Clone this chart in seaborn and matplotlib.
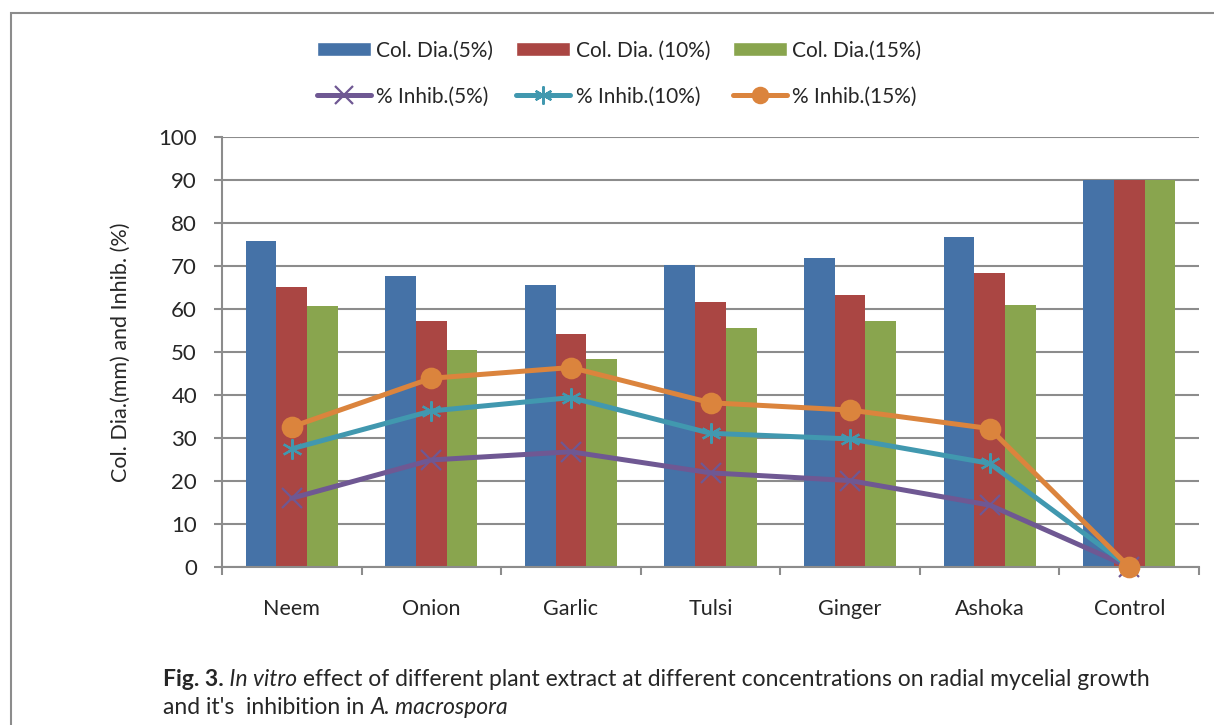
import numpy as np
import pandas as pd
import matplotlib.pyplot as plt
import seaborn as sns
from matplotlib.lines import Line2D
from matplotlib.patches import Patch, Rectangle

# Valores
plantas = ['Neem', 'Onion', 'Garlic', 'Tulsi', 'Ginger', 'Ashoka', 'Control']
col_dia_5 = [75.8, 67.7, 65.7, 70.2, 71.9, 76.7, 90.0]
col_dia_10 = [65.2, 57.3, 54.3, 61.6, 63.2, 68.4, 90.0]
col_dia_15 = [60.7, 50.5, 48.3, 55.6, 57.1, 60.9, 90.0]
inhib_5 = [16.0, 24.9, 26.8, 21.9, 20.1, 14.4, 0.0]
inhib_10 = [27.5, 36.3, 39.4, 31.1, 29.8, 24.1, 0.0]
inhib_15 = [32.6, 43.9, 46.4, 38.2, 36.5, 32.2, 0.0]

series_barras = ['Col. Dia.(5%)', 'Col. Dia. (10%)', 'Col. Dia.(15%)']
series_lineas = ['% Inhib.(5%)', '% Inhib.(10%)', '% Inhib.(15%)']
colores_barras = ['#4572A7', '#AA4643', '#89A54E']
colores_lineas = ['#6F5893', '#4198AF', '#DB843D']
marcadores = ['x', (6, 2, 0), 'o']

df = pd.DataFrame({'Planta': plantas,
                   series_barras[0]: col_dia_5,
                   series_barras[1]: col_dia_10,
                   series_barras[2]: col_dia_15})
df_largo = df.melt(id_vars='Planta', var_name='Serie', value_name='Valor')

sns.set_style('white')
plt.rcParams['font.family'] = ['Lato', 'DejaVu Sans']

fig = plt.figure(figsize=(12.14, 7.25), dpi=100)
ax = fig.add_axes([0.1829, 0.2179, 0.8048, 0.5931])

sns.barplot(data=df_largo, x='Planta', y='Valor', hue='Serie', order=plantas,
            hue_order=series_barras, palette=colores_barras, saturation=1,
            width=0.66, gap=0, linewidth=0, legend=False, ax=ax)

posiciones = np.arange(len(plantas))
for valores, color, marcador in zip([inhib_5, inhib_10, inhib_15], colores_lineas, marcadores):
    ms = 14 if marcador == 'o' else 14.5
    sns.lineplot(x=posiciones, y=valores, color=color, linewidth=3.6, marker=marcador,
                 markersize=ms, markeredgewidth=1.6, markeredgecolor=color,
                 clip_on=False, zorder=5, ax=ax)

ax.set_xlim(-0.5, len(plantas) - 0.5)
ax.set_ylim(0, 100)
ax.set_yticks(np.arange(0, 101, 10))
ax.set_xticks(posiciones)
ax.set_xticklabels(plantas)
ax.set_xticks(np.arange(-0.5, len(plantas), 1), minor=True)
ax.set_xlabel('')
ax.set_ylabel('Col. Dia.(mm) and Inhib. (%)', fontsize=15.5, labelpad=20)

ax.set_axisbelow(True)
ax.yaxis.grid(True, color='#8c8c8c', linewidth=1.5)
for lado in ['top', 'right']:
    ax.spines[lado].set_visible(False)
for lado in ['left', 'bottom']:
    ax.spines[lado].set_color('#8c8c8c')
    ax.spines[lado].set_linewidth(1.5)

ax.tick_params(axis='y', which='major', direction='out', length=6, width=1.5,
               color='#8c8c8c', labelsize=16, pad=12, left=True)
ax.tick_params(axis='x', which='major', length=0, labelsize=15.5, pad=23)
ax.tick_params(axis='x', which='minor', direction='out', length=6, width=1.5,
               color='#8c8c8c', bottom=True)

# Leyenda en dos filas
manejadores = []
for i in range(3):
    manejadores.append(Patch(facecolor=colores_barras[i], label=series_barras[i]))
    manejadores.append(Line2D([], [], color=colores_lineas[i], linewidth=3.6,
                              marker=marcadores[i], markersize=11 if i == 2 else 13,
                              markeredgewidth=1.6, label=series_lineas[i]))
fig.legend(handles=manejadores, ncol=3, loc='center', bbox_to_anchor=(0.51, 0.8986),
           frameon=False, fontsize=15, handlelength=2.6, handleheight=0.7,
           handletextpad=0.25, columnspacing=1.1, labelspacing=1.25)

# Pie de figura
tam = 16.5
t = fig.text(163 / 1214, 1 - 686 / 725, 'Fig. 3.', fontsize=tam, fontweight='bold', va='baseline')
t = ax.annotate(' In vitro', xy=(1, 0), xycoords=t, va='bottom', ha='left',
                fontsize=tam, style='italic', annotation_clip=False)
ax.annotate(' effect of different plant extract at different concentrations on radial mycelial growth',
            xy=(1, 0), xycoords=t, va='bottom', ha='left', fontsize=tam, annotation_clip=False)
t = fig.text(163 / 1214, 1 - 714 / 725, "and it's  inhibition in ", fontsize=tam, va='baseline')
ax.annotate('A. macrospora', xy=(1, 0), xycoords=t, va='bottom', ha='left',
            fontsize=tam, style='italic', annotation_clip=False)

# Marco exterior
fig.add_artist(Rectangle((11 / 1214, -0.1), 1.2, 1.1 - 13 / 725, transform=fig.transFigure,
                         fill=False, edgecolor='#8c8c8c', linewidth=1.5))

fig.savefig('out.png', dpi=100)
